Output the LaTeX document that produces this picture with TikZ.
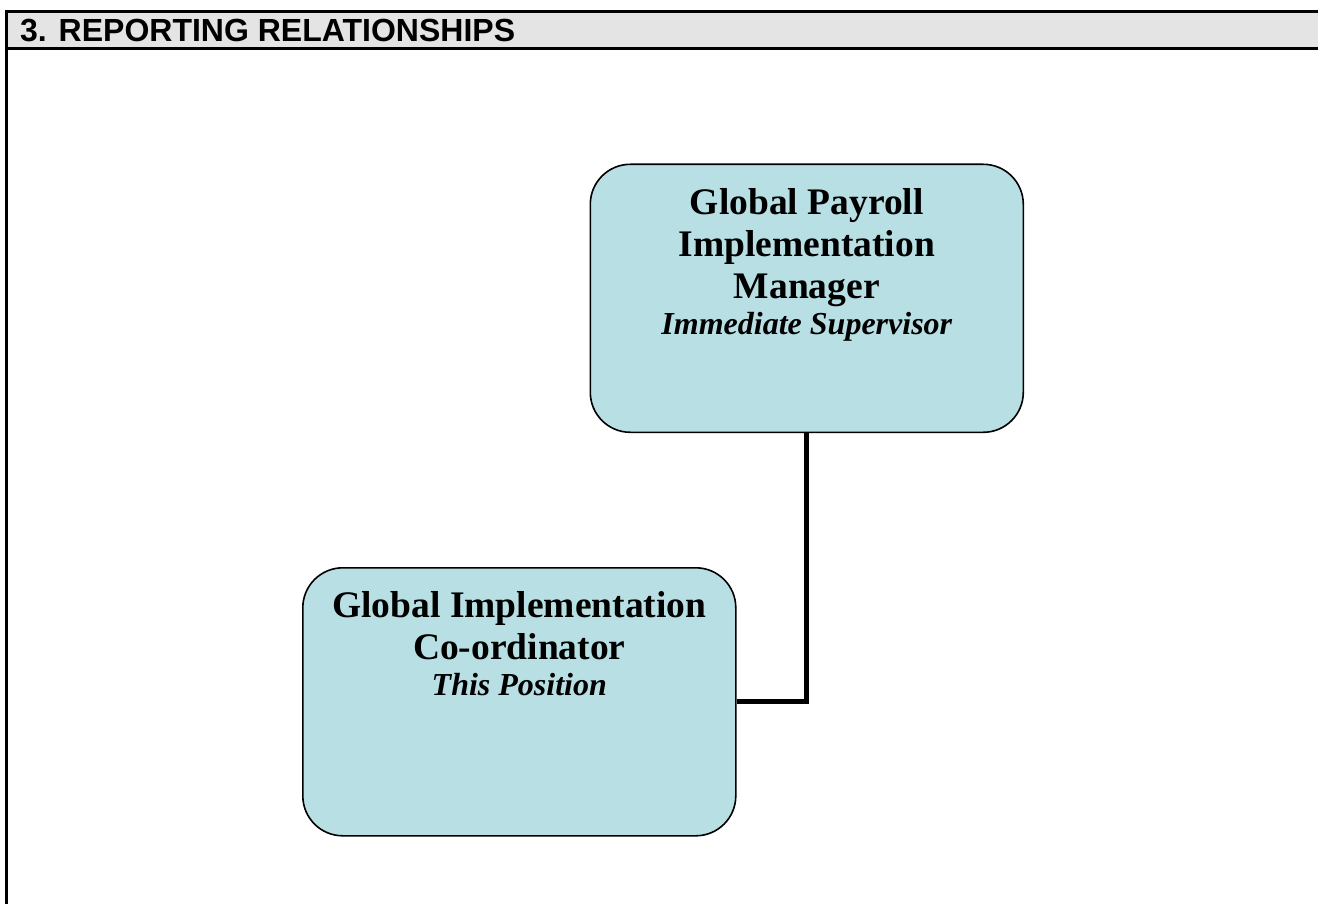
\documentclass[tikz,border=0pt]{standalone}
\usepackage{fontspec}
\setmainfont{Liberation Serif}
\newfontfamily\headfont{Liberation Sans}
\usetikzlibrary{positioning}
\definecolor{boxfill}{RGB}{184,223,227}
\definecolor{barfill}{RGB}{228,228,228}
\tikzset{
  orgBox/.style = {draw=black, line width=1.6pt, fill=boxfill,
    rounded corners=40pt, inner sep=0pt},
  orgLink/.style = {draw=black, line width=5pt},
  frameLine/.style = {draw=black, line width=3pt}
}
% box body: fixed size, text pinned to the top
\newcommand{\orgText}[2]{\parbox[c][268pt][t]{433pt}{\centering\vspace*{24pt}%
  {\fontsize{37.5}{42}\selectfont\bfseries #1\par}%
  {\fontsize{32}{36}\selectfont\bfseries\itshape #2\par}}}

\begin{document}
\begin{tikzpicture}[x=1pt,y=-1pt]
\useasboundingbox (0,0) rectangle (1318,904);
% section heading bar
\fill[barfill] (6,12) rectangle (1320,49);
\draw[frameLine] (1320,12) -- (6,12) -- (6,906);
\draw[frameLine] (6,49) -- (1320,49);
\node[anchor=base west, inner sep=0pt, font=\headfont\bfseries\fontsize{32}{36}\selectfont]
  (title) at (20,42) {3. REPORTING RELATIONSHIPS};

\node[orgBox, anchor=north west] (manager) at (589.5,163.5)
  {\orgText{Global Payroll\\Implementation\\Manager}{Immediate Supervisor}};
\node[orgBox, anchor=north west] (position) at (302,567)
  {\orgText{Global Implementation\\Co-ordinator}{This Position}};

\draw[orgLink] (manager.south) |- (position.east);
\end{tikzpicture}
\end{document}
